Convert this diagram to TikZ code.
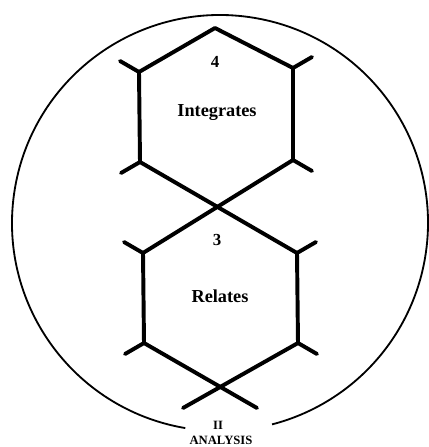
\documentclass[tikz,border=0pt]{standalone}
\usepackage{fontspec}
\setmainfont{Liberation Serif}
\usetikzlibrary{calc}
\tikzset{
  hexline/.style={
    line width=2.8pt,
    line cap=round,
    line join=round,
    black
  },
  ringline/.style={
    line width=1.3pt,
    black
  },
  stage/.style={
    inner sep=1pt,
    font=\bfseries\fontsize{13}{15}\selectfont
  },
  stagenum/.style={
    inner sep=1pt,
    font=\bfseries\fontsize{12}{14}\selectfont
  },
  caption/.style={
    inner sep=0.5pt,
    font=\bfseries\fontsize{9}{10}\selectfont
  }
}

\begin{document}
\begin{tikzpicture}[x=0.025cm, y=-0.025cm]
\useasboundingbox (0,0) rectangle (428,447);
% outer ring, open at the bottom
\coordinate (ctr) at (220,223);
\draw[ringline] (ctr) ++(99.6:208) arc[start angle=99.6, end angle=435.5, radius=208];
% upper cell
\coordinate (uT) at (215,28);
\coordinate (uUL) at (139,72);
\coordinate (uUR) at (293,68);
\coordinate (uLL) at (140,162);
\coordinate (uLR) at (293,160);
% lower cell
\coordinate (lUL) at (143,253);
\coordinate (lUR) at (297,253);
\coordinate (lLL) at (144,343);
\coordinate (lLR) at (298,343);
\coordinate (tailL) at (183,408);
\coordinate (tailR) at (257,408);
\draw[hexline] (uLR) -- (uUR) -- (uT) -- (uUL) -- (uLL) -- (lUR) -- (lLR) -- (tailL);
\draw[hexline] (uLR) -- (lUL) -- (lLL) -- (tailR);
% stubs
\draw[hexline] (uUL) -- ++(-19,-11);
\draw[hexline] (uUR) -- ++(19,-11);
\draw[hexline] (uLL) -- ++(-19,11);
\draw[hexline] (uLR) -- ++(19,11);
\draw[hexline] (lUL) -- ++(-19,-11);
\draw[hexline] (lUR) -- ++(19,-11);
\draw[hexline] (lLL) -- ++(-19,11);
\draw[hexline] (lLR) -- ++(19,11);
% labels
\node[stagenum] (four) at (215,62) {4};
\node[stage] (integrates) at (217,113) {Integrates};
\node[stagenum] (three) at (217,240) {3};
\node[stage] (relates) at (220,296) {Relates};
\node[caption] (level) at (218,425) {II};
\node[caption] (analysis) at (221,440) {ANALYSIS};
\end{tikzpicture}
\end{document}
